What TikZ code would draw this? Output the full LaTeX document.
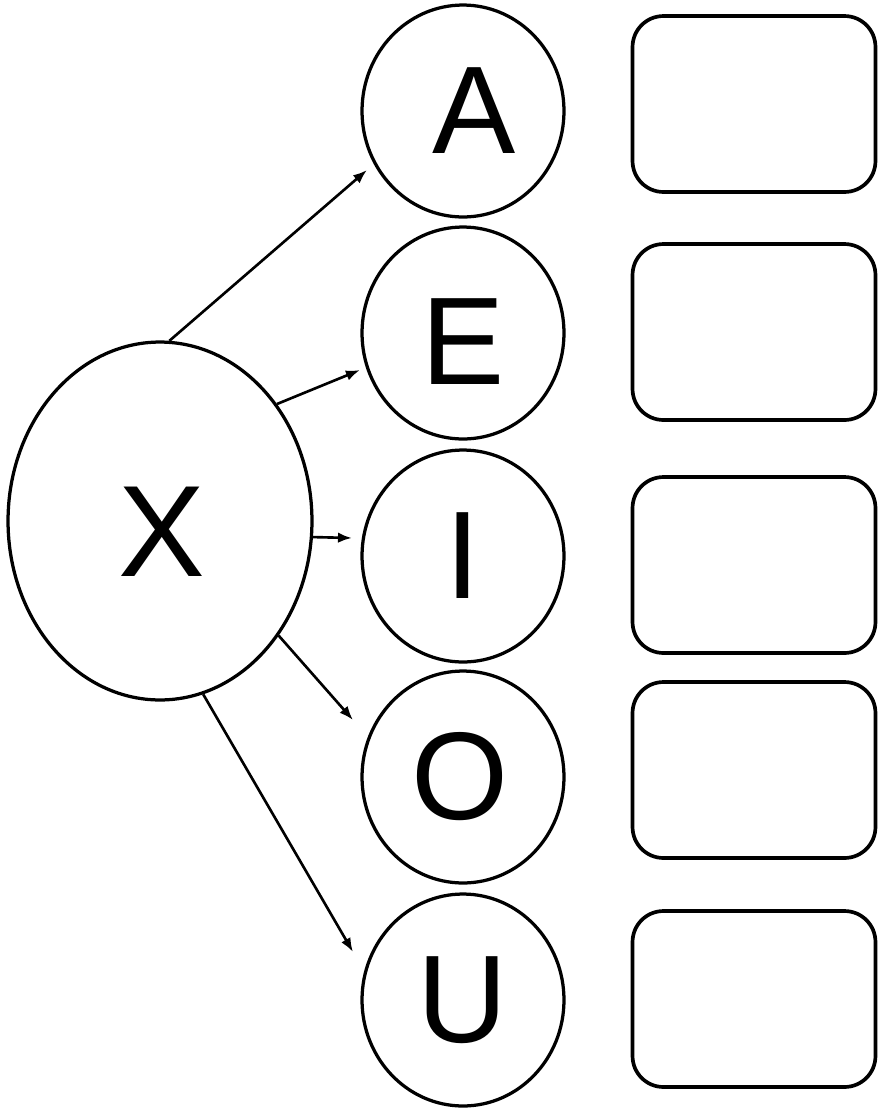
\documentclass[tikz,border=0pt]{standalone}
\usepackage{fontspec}
\setmainfont{Liberation Sans}
\usetikzlibrary{arrows.meta,shapes.geometric,calc}
\begin{document}
\begin{tikzpicture}[x=0.02cm,y=-0.02cm,
  vowel/.style={ellipse,draw,line width=1.85pt,minimum width=4.04cm,minimum height=4.24cm,inner sep=0pt},
  xnode/.style={ellipse,draw,line width=1.85pt,minimum width=6.08cm,minimum height=7.16cm,inner sep=0pt},
  lettertext/.style={inner sep=0pt,font=\fontsize{71}{80}\selectfont},
  bigletter/.style={inner sep=0pt,font=\fontsize{74}{82}\selectfont},
  answer/.style={rectangle,draw,rounded corners=0.62cm,line width=2.1pt,minimum width=4.86cm,minimum height=3.52cm},
  arr/.style={line width=1.5pt,-{Latex[length=8pt,width=6pt]}}]
\fill[white] (0,0) rectangle (878,1110);
\useasboundingbox (0,0) rectangle (878,1110);
\node[vowel,label={[lettertext,xshift=0.22cm]center:A}] (A) at (463,111) {};
\node[vowel,label={[lettertext,yshift=-0.18cm]center:E}] (E) at (463,333) {};
\node[vowel,label={[lettertext]center:I}] (I) at (463,556) {};
\node[vowel,label={[lettertext,xshift=-0.06cm]center:O}] (O) at (463,777) {};
\node[vowel,label={[lettertext]center:U}] (U) at (463,1000) {};
\node[xnode,label={[bigletter,xshift=0.04cm,yshift=-0.22cm]center:X}] (X) at (160,521) {};
\node[answer] (bA) at (754,104) {};
\node[answer] (bE) at (754,332) {};
\node[answer] (bI) at (754,565) {};
\node[answer] (bO) at (754,770) {};
\node[answer] (bU) at (754,999) {};
\draw[arr] (X.87) -- ($(A.center)+(-96,59)$);
\draw[arr] (X.45) -- ($(E.center)+(-103,37)$);
\draw[arr] (X.-6) -- ($(I.center)+(-111,-18)$);
\draw[arr] (X.-44) -- ($(O.center)+(-110,-57)$);
\draw[arr] (X.-76) -- ($(U.center)+(-110,-48)$);
\end{tikzpicture}
\end{document}
